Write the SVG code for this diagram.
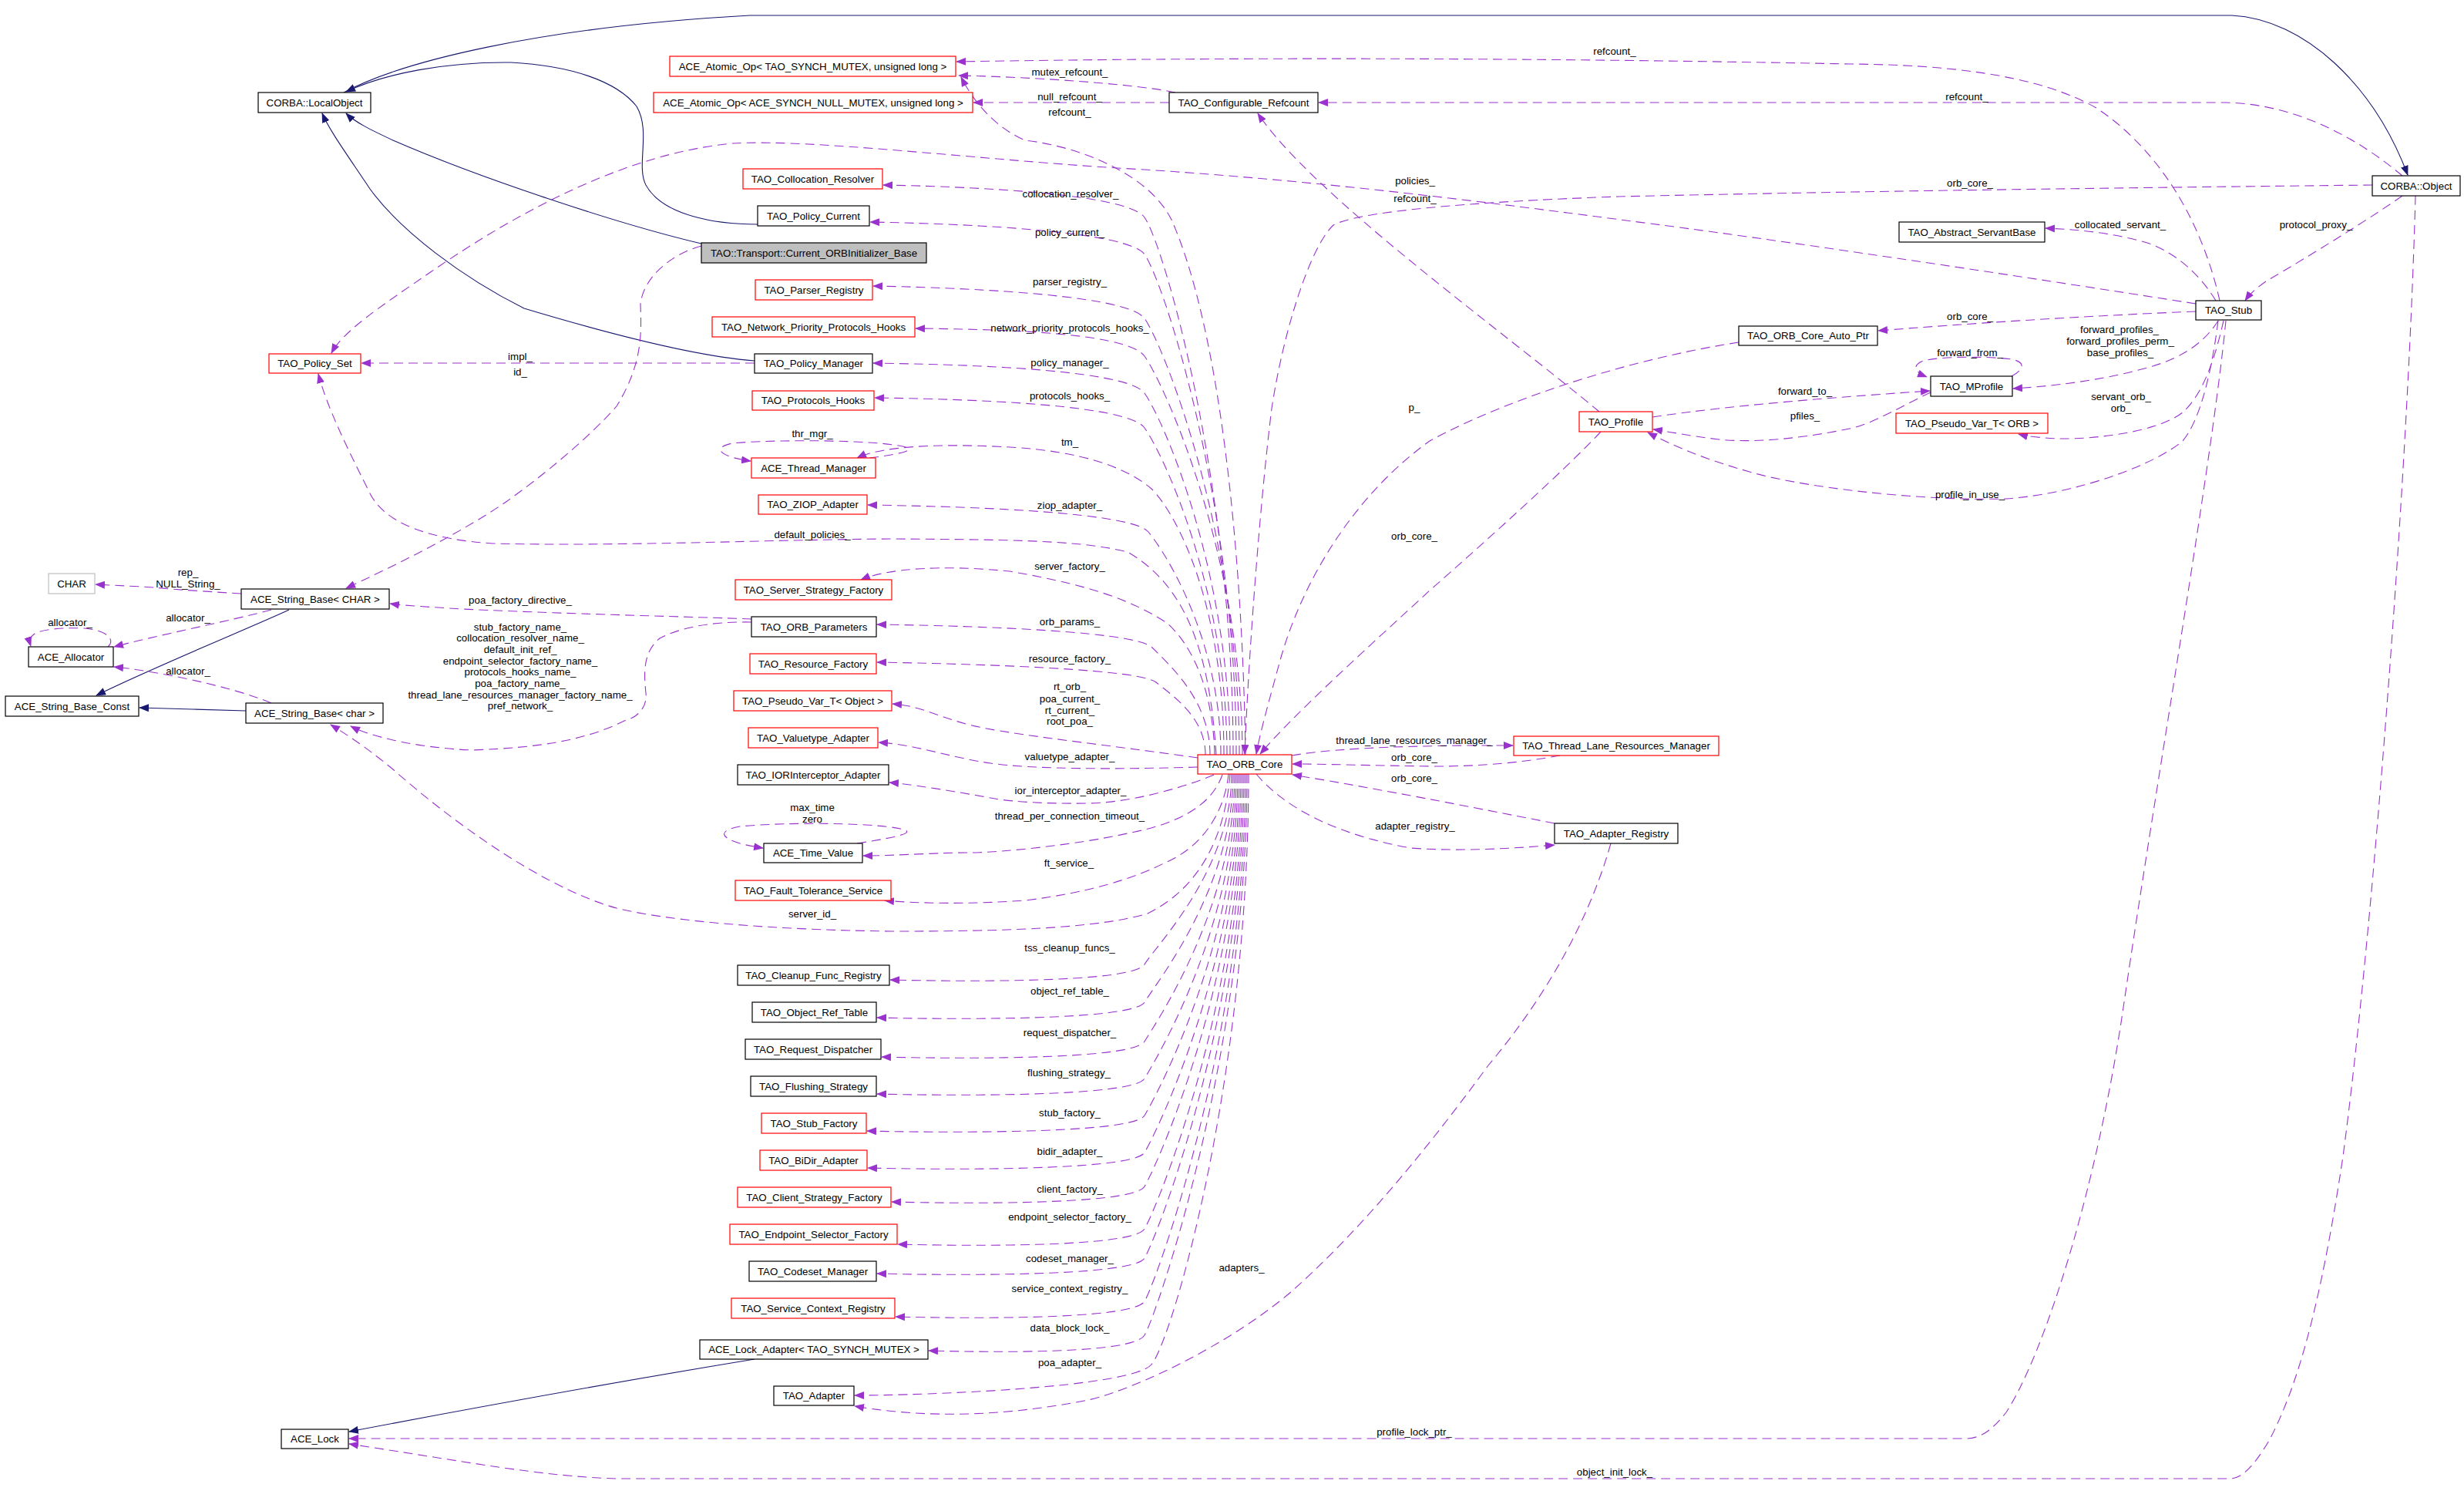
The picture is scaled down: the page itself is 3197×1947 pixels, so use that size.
<svg xmlns="http://www.w3.org/2000/svg" width="3197" height="1947" viewBox="0 0 3197 1947">
<style>
rect{fill:#fff;stroke:#000;stroke-width:1.2}
rect.r{stroke:#ff0000}
rect.g{stroke:#bfbfbf}
rect.f{fill:#bfbfbf}
text{font-family:"Liberation Sans",Arial,sans-serif;font-size:13.3px;fill:#000;text-anchor:middle}
.e path{fill:none;stroke:#9a32cd;stroke-width:1.1;stroke-dasharray:12,7;marker-end:url(#ap)}
.i path{fill:none;stroke:#191970;stroke-width:1.1;marker-end:url(#an)}
</style>
<defs>
<marker id="ap" markerWidth="13" markerHeight="10" refX="12" refY="5" orient="auto" markerUnits="userSpaceOnUse"><path d="M0,0 L13,5 L0,10 z" fill="#9a32cd"/></marker>
<marker id="an" markerWidth="13" markerHeight="10" refX="12" refY="5" orient="auto" markerUnits="userSpaceOnUse"><path d="M0,0 L13,5 L0,10 z" fill="#191970"/></marker>
</defs>
<rect x="0" y="0" width="3197" height="1947" style="stroke:none"/>

<g id="connectors">
<g class="i">
<path d="M446,120 C520,80 700,35 973,20 L2896,20 C2990,25 3080,110 3124,227"/>
<path d="M983,291 C930,291 860,280 838,240 C825,215 845,170 826,138 C800,105 740,85 663,81 C580,80 500,95 449,119"/>
<path d="M910,316 C800,290 620,230 510,182 C480,168 460,158 449,147"/>
<path d="M979,468 C900,462 780,430 680,400 C600,360 520,300 480,245 C450,200 428,170 418,147"/>
<path d="M375,791 C330,812 200,865 125,902"/>
<path d="M319,922 C280,921 220,919 181,918"/>
<path d="M979,1763 C900,1776 700,1810 453,1857"/>
</g>
<g class="e">
<path d="M2880,390 C2860,300 2810,200 2720,140 C2640,95 2520,84 2400,83 C2000,75 1600,74 1241,80"/>
<path d="M1525,120 C1480,110 1350,100 1244,98"/>
<path d="M1517,133 L1263,133"/>
<path d="M3117,228 C3060,180 2980,135 2888,133 L1711,133"/>
<path d="M1616,979 C1612,700 1580,420 1520,285 C1490,225 1400,190 1330,182 C1290,165 1262,130 1247,100"/>
<path d="M1600,979 C1600,630 1510,317 1485,282 S1205,241 1146,240"/>
<path d="M1604,979 C1604,654 1510,365 1485,330 S1188,289 1129,288"/>
<path d="M1608,979 C1608,696 1510,448 1485,413 S1192,372 1133,371"/>
<path d="M1612,979 C1612,720 1510,497 1485,462 S1247,427 1188,426"/>
<path d="M1596,979 C1596,744 1510,545 1485,510 S1192,472 1133,471"/>
<path d="M1592,979 C1592,767 1510,590 1485,555 S1194,517 1135,516"/>
<path d="M1588,979 C1588,790 1530,670 1494,634 C1460,605 1400,585 1310,580 C1240,576 1150,576 1112,594"/>
<path d="M1584,979 C1584,834 1515,720 1490,690 S1185,656 1126,655"/>
<path d="M1578,979 C1570,850 1540,760 1463,716 C1400,700 1300,700 1157,699 C1000,700 800,709 640,705 C560,700 500,680 480,640 C450,580 425,530 413,485"/>
<path d="M1576,979 C1574,900 1550,840 1514,808 C1470,780 1420,760 1310,741 C1220,732 1150,738 1117,752"/>
<path d="M1570,979 C1570,910 1520,865 1495,840 S1197,811 1138,810"/>
<path d="M1564,979 C1564,932 1525,905 1500,885 S1197,860 1138,859"/>
<path d="M1554,983 C1450,968 1330,955 1275,944 S1200,916 1158,913"/>
<path d="M1554,995 C1450,998 1340,998 1285,990 S1190,966 1140,963"/>
<path d="M1575,1005 C1540,1020 1470,1041 1412,1042 C1340,1043 1300,1038 1285,1035 S1190,1018 1154,1015"/>
<path d="M1586,1005 C1570,1050 1520,1070 1463,1081 C1400,1095 1300,1106 1259,1106 S1160,1110 1120,1110"/>
<path d="M1112,1094 C1150,1088 1185,1082 1175,1077 C1150,1067 1020,1066 960,1072 C925,1078 935,1092 990,1100"/>
<path d="M1128,594 C1160,590 1190,585 1175,580 C1140,570 1000,570 950,575 C925,580 930,592 974,598"/>
<path d="M1594,1004 C1588,1060 1555,1100 1514,1118 C1470,1140 1412,1158 1330,1168 C1260,1173 1190,1172 1148,1168"/>
<path d="M1596,1004 C1590,1080 1560,1150 1489,1185 C1420,1205 1300,1208 1157,1208 C1000,1206 870,1195 800,1178 C700,1150 580,1060 510,998 C470,965 445,950 429,940"/>
<path d="M1598,1004 C1598,1128 1500,1226 1485,1251 S1234,1273 1155,1271"/>
<path d="M1600,1004 C1600,1152 1500,1275 1485,1300 S1217,1322 1138,1320"/>
<path d="M1602,1004 C1602,1178 1500,1326 1485,1351 S1223,1373 1144,1371"/>
<path d="M1604,1004 C1604,1202 1500,1374 1485,1399 S1217,1421 1138,1419"/>
<path d="M1606,1004 C1606,1226 1500,1422 1485,1447 S1204,1469 1125,1467"/>
<path d="M1608,1004 C1608,1250 1500,1470 1485,1495 S1205,1517 1126,1515"/>
<path d="M1610,1004 C1610,1272 1500,1514 1485,1539 S1236,1561 1157,1559"/>
<path d="M1612,1004 C1612,1299 1500,1569 1485,1594 S1244,1616 1165,1614"/>
<path d="M1614,1004 C1614,1318 1500,1607 1485,1632 S1217,1654 1138,1652"/>
<path d="M1616,1004 C1616,1346 1500,1663 1485,1688 S1241,1710 1162,1708"/>
<path d="M1618,1004 C1618,1368 1500,1707 1485,1732 S1284,1754 1205,1752"/>
<path d="M1620,1004 C1620,1400 1520,1740 1494,1770 S1200,1810 1109,1810"/>
<path d="M3078,240 C2800,243 2400,248 2100,255 C1900,262 1760,275 1730,292 C1700,320 1665,430 1650,530 C1635,650 1620,850 1615,978"/>
<path d="M2075,534 C1950,430 1700,250 1632,147"/>
<path d="M2849,394 C2600,355 2300,310 2110,286 C1950,265 1700,232 1450,218 C1250,205 1050,180 950,186 C800,200 650,290 560,352 C490,400 445,430 430,458"/>
<path d="M2256,444 C2100,468 1940,525 1855,572 C1760,640 1690,750 1660,860 C1645,915 1635,950 1630,978"/>
<path d="M2077,560 C2030,610 1930,700 1855,766 C1780,835 1680,925 1635,978"/>
<path d="M2878,416 C2870,480 2855,545 2832,572 C2800,600 2700,640 2603,647 C2480,650 2330,630 2270,612 C2210,595 2170,578 2138,561"/>
<path d="M2505,509 C2470,525 2430,550 2400,556 C2340,568 2280,575 2230,570 C2190,565 2165,560 2145,557"/>
<path d="M2144,541 C2250,525 2400,514 2504,507"/>
<path d="M2610,488 C2625,480 2630,470 2610,466 C2580,462 2520,462 2495,468 C2480,474 2485,483 2500,489"/>
<path d="M2878,416 C2860,445 2830,465 2786,477 C2740,490 2680,500 2612,504"/>
<path d="M2885,416 C2875,460 2860,510 2832,535 C2800,560 2720,570 2669,569 C2650,568 2630,566 2619,563"/>
<path d="M2875,390 C2860,365 2830,330 2786,315 C2740,302 2700,298 2654,296"/>
<path d="M3117,254 C3080,280 3000,330 2940,365 C2930,372 2920,380 2913,390"/>
<path d="M2849,404 C2700,410 2550,420 2437,429"/>
<path d="M2888,416 C2870,600 2800,1000 2756,1300 C2720,1550 2650,1760 2603,1832 C2585,1855 2570,1866 2550,1866 L453,1866"/>
<path d="M3134,254 C3125,600 3080,1200 3040,1500 C3010,1700 2980,1800 2944,1869 C2925,1900 2910,1918 2893,1918 L800,1918 C700,1915 600,1895 453,1873"/>
<path d="M2090,1094 C2060,1200 2000,1300 1931,1382 C1840,1506 1760,1600 1676,1675 C1600,1740 1480,1800 1412,1816 C1310,1836 1208,1841 1109,1824"/>
<path d="M1676,980 C1720,972 1800,968 1906,967 L1963,967"/>
<path d="M2024,980 C1980,988 1930,994 1860,994 C1780,993 1720,991 1677,991"/>
<path d="M2017,1068 C1950,1055 1800,1025 1677,1005"/>
<path d="M1630,1004 C1660,1040 1720,1080 1830,1100 C1900,1105 1970,1100 2017,1096"/>
<path d="M979,471 L469,471"/>
<path d="M910,319 C870,330 835,360 831,394 C832,430 835,470 800,527 C760,572 700,620 658,650 C600,690 520,730 449,763"/>
<path d="M313,770 C280,768 230,765 200,762 C170,760 140,759 124,758"/>
<path d="M352,791 C300,805 200,825 148,839"/>
<path d="M140,839 C150,830 140,818 110,815 C80,814 55,816 45,822 C38,827 38,832 40,838"/>
<path d="M352,912 C300,890 200,870 148,865"/>
<path d="M975,803 C900,800 750,797 600,790 C550,787 520,785 506,783"/>
<path d="M975,807 C920,806 880,815 856,828 C835,845 835,870 838,899 C840,915 830,930 810,935 C760,960 700,970 612,973 C540,970 480,955 455,942"/>
</g>
<g id="edge-labels">
<text x="2095" y="71">refcount_</text>
<text x="1388" y="98">mutex_refcount_</text>
<text x="1388" y="130">null_refcount_</text>
<text x="1388" y="150">refcount_</text>
<text x="2552" y="130">refcount_</text>
<text x="1389" y="256">collocation_resolver_</text>
<text x="1388" y="306">policy_current_</text>
<text x="1388" y="370">parser_registry_</text>
<text x="1388" y="430">network_priority_protocols_hooks_</text>
<text x="1388" y="475">policy_manager_</text>
<text x="1388" y="518">protocols_hooks_</text>
<text x="1054" y="567">thr_mgr_</text>
<text x="1388" y="578">tm_</text>
<text x="1388" y="660">ziop_adapter_</text>
<text x="1054" y="698">default_policies_</text>
<text x="1388" y="739">server_factory_</text>
<text x="1388" y="811">orb_params_</text>
<text x="1388" y="859">resource_factory_</text>
<text x="1388" y="895">rt_orb_</text>
<text x="1388" y="911">poa_current_</text>
<text x="1388" y="926">rt_current_</text>
<text x="1388" y="940">root_poa_</text>
<text x="1388" y="986">valuetype_adapter_</text>
<text x="1389" y="1030">ior_interceptor_adapter_</text>
<text x="1054" y="1052">max_time</text>
<text x="1054" y="1067">zero</text>
<text x="1388" y="1063">thread_per_connection_timeout_</text>
<text x="1387" y="1124">ft_service_</text>
<text x="1054" y="1190">server_id_</text>
<text x="1388" y="1234">tss_cleanup_funcs_</text>
<text x="1388" y="1290">object_ref_table_</text>
<text x="1388" y="1344">request_dispatcher_</text>
<text x="1387" y="1396">flushing_strategy_</text>
<text x="1388" y="1448">stub_factory_</text>
<text x="1388" y="1498">bidir_adapter_</text>
<text x="1388" y="1547">client_factory_</text>
<text x="1388" y="1583">endpoint_selector_factory_</text>
<text x="1388" y="1637">codeset_manager_</text>
<text x="1388" y="1676">service_context_registry_</text>
<text x="1388" y="1727">data_block_lock_</text>
<text x="1388" y="1772">poa_adapter_</text>
<text x="1611" y="1649">adapters_</text>
<text x="1835" y="1862">profile_lock_ptr_</text>
<text x="2095" y="1914">object_init_lock_</text>
<text x="1836" y="239">policies_</text>
<text x="1836" y="262">refcount_</text>
<text x="2556" y="242">orb_core_</text>
<text x="1835" y="533">p_</text>
<text x="1835" y="700">orb_core_</text>
<text x="1835" y="965">thread_lane_resources_manager_</text>
<text x="1835" y="987">orb_core_</text>
<text x="1835" y="1014">orb_core_</text>
<text x="1836" y="1076">adapter_registry_</text>
<text x="2751" y="296">collocated_servant_</text>
<text x="3005" y="296">protocol_proxy_</text>
<text x="2556" y="415">orb_core_</text>
<text x="2750" y="432">forward_profiles_</text>
<text x="2751" y="447">forward_profiles_perm_</text>
<text x="2751" y="462">base_profiles_</text>
<text x="2556" y="462">forward_from_</text>
<text x="2342" y="512">forward_to_</text>
<text x="2342" y="544">pfiles_</text>
<text x="2752" y="519">servant_orb_</text>
<text x="2752" y="534">orb_</text>
<text x="2556" y="646">profile_in_use_</text>
<text x="675" y="467">impl_</text>
<text x="675" y="487">id_</text>
<text x="244" y="747">rep_</text>
<text x="244" y="762">NULL_String_</text>
<text x="244" y="806">allocator_</text>
<text x="91" y="812">allocator_</text>
<text x="244" y="875">allocator_</text>
<text x="675" y="783">poa_factory_directive_</text>
<text x="675" y="818">stub_factory_name_</text>
<text x="675" y="832">collocation_resolver_name_</text>
<text x="675" y="847">default_init_ref_</text>
<text x="675" y="862">endpoint_selector_factory_name_</text>
<text x="675" y="876">protocols_hooks_name_</text>
<text x="675" y="891">poa_factory_name_</text>
<text x="675" y="906">thread_lane_resources_manager_factory_name_</text>
<text x="675" y="920">pref_network_</text>
</g>
</g>

<g id="n1"><rect x="335" y="120" width="146" height="26"/><text x="408" y="137.5">CORBA::LocalObject</text></g>
<g id="n2"><rect class="r" x="349" y="459" width="119" height="25"/><text x="408.5" y="476">TAO_Policy_Set</text></g>
<g id="n3"><rect class="g" x="63" y="744" width="60" height="26"/><text x="93" y="761.5">CHAR</text></g>
<g id="n4"><rect x="313" y="764" width="192" height="26"/><text x="409" y="781.5">ACE_String_Base&lt; CHAR &gt;</text></g>
<g id="n5"><rect x="37" y="839" width="110" height="26"/><text x="92" y="856.5">ACE_Allocator</text></g>
<g id="n6"><rect x="7" y="903" width="173" height="26"/><text x="93.5" y="920.5">ACE_String_Base_Const</text></g>
<g id="n7"><rect x="319" y="912" width="178" height="26"/><text x="408" y="929.5">ACE_String_Base&lt; char &gt;</text></g>
<g id="n8"><rect x="365" y="1854" width="87" height="25"/><text x="408.5" y="1871">ACE_Lock</text></g>
<g id="n9"><rect class="r" x="869" y="73" width="371" height="26"/><text x="1054.5" y="90.5">ACE_Atomic_Op&lt; TAO_SYNCH_MUTEX, unsigned long &gt;</text></g>
<g id="n10"><rect class="r" x="848" y="120" width="414" height="26"/><text x="1055" y="137.5">ACE_Atomic_Op&lt; ACE_SYNCH_NULL_MUTEX, unsigned long &gt;</text></g>
<g id="n11"><rect x="1517" y="120" width="193" height="26"/><text x="1613.5" y="137.5">TAO_Configurable_Refcount</text></g>
<g id="n12"><rect class="r" x="964" y="219" width="181" height="26"/><text x="1054.5" y="236.5">TAO_Collocation_Resolver</text></g>
<g id="n13"><rect x="983" y="267" width="145" height="26"/><text x="1055.5" y="284.5">TAO_Policy_Current</text></g>
<g id="n14"><rect class="f" x="910" y="315" width="292" height="26"/><text x="1056" y="332.5">TAO::Transport::Current_ORBInitializer_Base</text></g>
<g id="n15"><rect class="r" x="980" y="363" width="152" height="26"/><text x="1056" y="380.5">TAO_Parser_Registry</text></g>
<g id="n16"><rect class="r" x="924" y="411" width="263" height="26"/><text x="1055.5" y="428.5">TAO_Network_Priority_Protocols_Hooks</text></g>
<g id="n17"><rect x="979" y="459" width="153" height="25"/><text x="1055.5" y="476">TAO_Policy_Manager</text></g>
<g id="n18"><rect class="r" x="976" y="507" width="158" height="25"/><text x="1055" y="524">TAO_Protocols_Hooks</text></g>
<g id="n19"><rect class="r" x="975" y="594" width="161" height="26"/><text x="1055.5" y="611.5">ACE_Thread_Manager</text></g>
<g id="n20"><rect class="r" x="984" y="642" width="141" height="25"/><text x="1054.5" y="659">TAO_ZIOP_Adapter</text></g>
<g id="n21"><rect class="r" x="954" y="752" width="203" height="26"/><text x="1055.5" y="769.5">TAO_Server_Strategy_Factory</text></g>
<g id="n22"><rect x="975" y="800" width="162" height="26"/><text x="1056" y="817.5">TAO_ORB_Parameters</text></g>
<g id="n23"><rect class="r" x="973" y="848" width="164" height="26"/><text x="1055" y="865.5">TAO_Resource_Factory</text></g>
<g id="n24"><rect class="r" x="952" y="896" width="205" height="26"/><text x="1054.5" y="913.5">TAO_Pseudo_Var_T&lt; Object &gt;</text></g>
<g id="n25"><rect class="r" x="971" y="944" width="168" height="26"/><text x="1055" y="961.5">TAO_Valuetype_Adapter</text></g>
<g id="n26"><rect class="r" x="1554" y="979" width="122" height="25"/><text x="1615" y="996">TAO_ORB_Core</text></g>
<g id="n27"><rect x="957" y="992" width="196" height="26"/><text x="1055" y="1009.5">TAO_IORInterceptor_Adapter</text></g>
<g id="n28"><rect x="991" y="1094" width="128" height="25"/><text x="1055" y="1111">ACE_Time_Value</text></g>
<g id="n29"><rect class="r" x="954" y="1142" width="202" height="26"/><text x="1055" y="1159.5">TAO_Fault_Tolerance_Service</text></g>
<g id="n30"><rect x="957" y="1252" width="197" height="26"/><text x="1055.5" y="1269.5">TAO_Cleanup_Func_Registry</text></g>
<g id="n31"><rect x="976" y="1300" width="161" height="26"/><text x="1056.5" y="1317.5">TAO_Object_Ref_Table</text></g>
<g id="n32"><rect x="967" y="1348" width="176" height="26"/><text x="1055" y="1365.5">TAO_Request_Dispatcher</text></g>
<g id="n33"><rect x="974" y="1396" width="163" height="26"/><text x="1055.5" y="1413.5">TAO_Flushing_Strategy</text></g>
<g id="n34"><rect class="r" x="988" y="1444" width="136" height="26"/><text x="1056" y="1461.5">TAO_Stub_Factory</text></g>
<g id="n35"><rect class="r" x="986" y="1492" width="139" height="26"/><text x="1055.5" y="1509.5">TAO_BiDir_Adapter</text></g>
<g id="n36"><rect class="r" x="957" y="1540" width="199" height="26"/><text x="1056.5" y="1557.5">TAO_Client_Strategy_Factory</text></g>
<g id="n37"><rect class="r" x="947" y="1588" width="217" height="26"/><text x="1055.5" y="1605.5">TAO_Endpoint_Selector_Factory</text></g>
<g id="n38"><rect x="972" y="1636" width="165" height="26"/><text x="1054.5" y="1653.5">TAO_Codeset_Manager</text></g>
<g id="n39"><rect class="r" x="949" y="1684" width="212" height="26"/><text x="1055" y="1701.5">TAO_Service_Context_Registry</text></g>
<g id="n40"><rect x="908" y="1738" width="296" height="25"/><text x="1056" y="1755">ACE_Lock_Adapter&lt; TAO_SYNCH_MUTEX &gt;</text></g>
<g id="n41"><rect x="1004" y="1798" width="104" height="25"/><text x="1056" y="1815">TAO_Adapter</text></g>
<g id="n42"><rect x="2256" y="423" width="180" height="25"/><text x="2346" y="440">TAO_ORB_Core_Auto_Ptr</text></g>
<g id="n43"><rect class="r" x="2049" y="534" width="95" height="26"/><text x="2096.5" y="551.5">TAO_Profile</text></g>
<g id="n44"><rect class="r" x="1964" y="955" width="266" height="25"/><text x="2097" y="972">TAO_Thread_Lane_Resources_Manager</text></g>
<g id="n45"><rect x="2017" y="1068" width="160" height="26"/><text x="2097" y="1085.5">TAO_Adapter_Registry</text></g>
<g id="n46"><rect x="3078" y="228" width="114" height="26"/><text x="3135" y="245.5">CORBA::Object</text></g>
<g id="n47"><rect x="2464" y="288" width="189" height="26"/><text x="2558.5" y="305.5">TAO_Abstract_ServantBase</text></g>
<g id="n48"><rect x="2849" y="390" width="85" height="25"/><text x="2891.5" y="407">TAO_Stub</text></g>
<g id="n49"><rect x="2505" y="488" width="106" height="26"/><text x="2558" y="505.5">TAO_MProfile</text></g>
<g id="n50"><rect class="r" x="2460" y="536" width="197" height="26"/><text x="2558.5" y="553.5">TAO_Pseudo_Var_T&lt; ORB &gt;</text></g>
</svg>
